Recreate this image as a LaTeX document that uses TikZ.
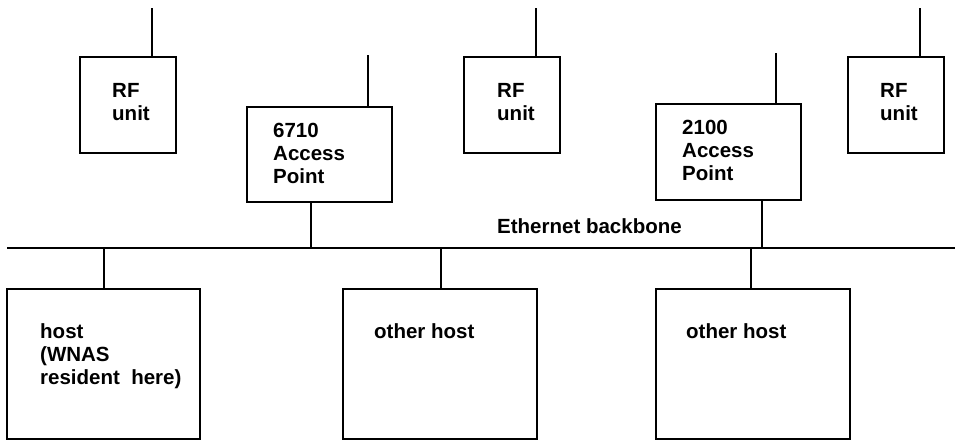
\documentclass[tikz,border=0pt]{standalone}
\usepackage{fontspec}
\setmainfont{Liberation Sans}
\begin{document}
\begin{tikzpicture}[x=1pt,y=-1pt,
  box/.style={draw,line width=1.9pt,inner sep=0pt},
  wire/.style={line width=1.9pt},
  lbl/.style={font=\bfseries\fontsize{20.5}{23}\selectfont,align=left,anchor=north west,inner sep=0pt}]
\useasboundingbox (0,0) rectangle (961,441);
% boxes
\node[box,minimum width=96pt,minimum height=96pt] (rf1) at (128,105) {};
\node[box,minimum width=96pt,minimum height=96pt] (rf2) at (512,105) {};
\node[box,minimum width=96pt,minimum height=96pt] (rf3) at (896,105) {};
\node[box,minimum width=145pt,minimum height=95pt] (ap1) at (319.5,154.5) {};
\node[box,minimum width=145pt,minimum height=96pt] (ap2) at (728.5,152) {};
\node[box,minimum width=193pt,minimum height=150pt] (h1) at (103.5,364) {};
\node[box,minimum width=194pt,minimum height=150pt] (h2) at (440,364) {};
\node[box,minimum width=194pt,minimum height=150pt] (h3) at (753,364) {};
% labels
\node[lbl] (trf1) at (112,83) {RF\\unit};
\node[lbl] (trf2) at (497,83) {RF\\unit};
\node[lbl] (trf3) at (880,83) {RF\\unit};
\node[lbl] (tap1) at (273,123) {6710\\Access\\Point};
\node[lbl] (tap2) at (682,120) {2100\\Access\\Point};
\node[lbl] (th1) at (40,323) {host\\(WNAS\\resident\ \ here)};
\node[lbl] (th2) at (374,323) {other host};
\node[lbl] (th3) at (686,323) {other host};
\node[lbl] (teth) at (497,218) {Ethernet backbone};
% antenna ends
\coordinate (a1) at (152,8);
\coordinate (a2) at (536,8);
\coordinate (a3) at (920,8);
\coordinate (a4) at (368,55);
\coordinate (a5) at (776,53);
% backbone
\coordinate (bbL) at (7,248);
\coordinate (bbR) at (955,248);
\coordinate (t1) at (311,248);
\coordinate (t2) at (762,248);
\coordinate (d1) at (104,248);
\coordinate (d2) at (441,248);
\coordinate (d3) at (751,248);
\draw[wire] (bbL) -- (bbR);
\draw[wire] (rf1.north -| a1) -- (a1);
\draw[wire] (rf2.north -| a2) -- (a2);
\draw[wire] (rf3.north -| a3) -- (a3);
\draw[wire] (ap1.north -| a4) -- (a4);
\draw[wire] (ap2.north -| a5) -- (a5);
\draw[wire] (ap1.south -| t1) -- (t1);
\draw[wire] (ap2.south -| t2) -- (t2);
\draw[wire] (d1) -- (h1.north -| d1);
\draw[wire] (d2) -- (h2.north -| d2);
\draw[wire] (d3) -- (h3.north -| d3);
\end{tikzpicture}
\end{document}
